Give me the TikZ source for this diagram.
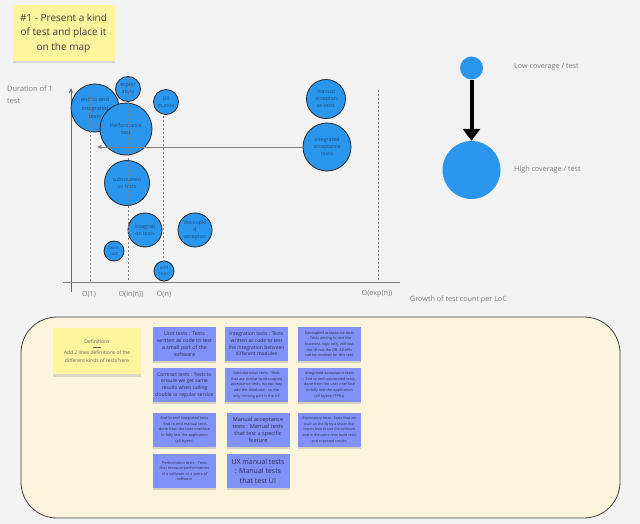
\documentclass[tikz,border=0pt]{standalone}
\usepackage{fontspec}
\setmainfont{Open Sans}
\usetikzlibrary{arrows.meta,shadows}
\definecolor{bgc}{HTML}{F2F2F2}
\definecolor{yel}{HTML}{FDF49E}
\definecolor{panelc}{HTML}{FAF4DC}
\definecolor{stk}{HTML}{8092F7}
\definecolor{stktext}{HTML}{2C2C55}
\definecolor{bub}{HTML}{2A96EE}
\definecolor{bubtext}{HTML}{1E4E7E}
\definecolor{graytext}{HTML}{7A7A7A}
\definecolor{axisc}{HTML}{808080}
\begin{document}
\begin{tikzpicture}[x=1pt,y=-1pt,
  bubble/.style={circle, draw=black!85, line width=0.8pt, fill=bub, text=bubtext, align=center, inner sep=0pt, font=\fontsize{5.2}{7}\selectfont},
  legbub/.style={circle, fill=bub, inner sep=0pt},
  yelsticky/.style={rectangle, fill=yel, align=center, inner sep=0pt, drop shadow={shadow xshift=0pt, shadow yshift=-2.5pt, opacity=0.25}},
  bluesticky/.style={rectangle, fill=stk, text=stktext, align=center, inner sep=0pt, minimum width=63, minimum height=34, drop shadow={shadow xshift=0pt, shadow yshift=-2pt, opacity=0.3}},
  big/.style={font=\fontsize{5.3}{7}\selectfont},
  small/.style={font=\fontsize{3.8}{5.6}\selectfont},
  axisline/.style={draw=axisc, line width=0.9pt},
  tick/.style={draw=axisc, line width=0.7pt, dash pattern=on 2pt off 2pt},
  glabel/.style={text=graytext, font=\fontsize{7.2}{8.5}\selectfont, inner sep=0pt},
  panelbox/.style={rectangle, draw=black!75, line width=0.8pt, fill=panelc, rounded corners=36pt}
]
\fill[bgc] (0,0) rectangle (640,524);
\useasboundingbox (0,0) rectangle (640,524);

% title sticky
\node[yelsticky, minimum width=102, minimum height=56, font=\fontsize{10}{14.5}\selectfont, text=black!75] (title) at (63.5,33) {\#1 - Present a kind\\of test and place it\\on the map};

% axis labels
\node[glabel, anchor=west, align=left, font=\fontsize{7.4}{12}\selectfont] (ylab) at (7,95) {Duration of 1\\test};
\node[glabel, anchor=west] (xlab) at (410,300) {Growth of test count per LoC};

% axes
\coordinate (ybot) at (71,292);
\coordinate (ytop) at (71,88);
\coordinate (xleft) at (63,282);
\coordinate (xright) at (400,282);
\draw[axisline, -{Stealth[length=5pt,width=4pt]}, draw=black!60] (ybot) -- (ytop);
\draw[axisline] (xleft) -- (xright);

% tick labels
\node[glabel] (o1) at (89,294) {O(1)};
\node[glabel] (oln) at (131,294) {O(ln(n))};
\node[glabel] (on) at (164,294) {O(n)};
\node[glabel] (oexp) at (377,294) {O(exp(n))};

% bubbles
\node[bubble, minimum size=48, font=\fontsize{5.5}{8.3}\selectfont] (e2e) at (95,108) {end to end\\integrated\\tests};
\node[bubble, minimum size=52] (perf) at (126,129) {Performance\\test};
\node[bubble, minimum size=25] (explo) at (128,89) {explor\\atory};
\node[bubble, minimum size=25] (ux) at (166,102) {UX\\manua};
\node[bubble, minimum size=45] (subc) at (127,183) {subcutaneo\\us tests};
\node[bubble, minimum size=34] (integ) at (145,230) {integrati\\on tests};
\node[bubble, minimum size=34] (decoup) at (195,230) {decouple\\d\\acceptan};
\node[bubble, minimum size=20, font=\fontsize{4.6}{6}\selectfont] (contract) at (114,251) {cont\\ract};
\node[bubble, minimum size=20, font=\fontsize{4.6}{6}\selectfont] (unit) at (164,271) {unit\\tests};
\node[bubble, minimum size=39] (manacc) at (326,99) {manual\\acceptan\\ce tests};
\node[bubble, minimum size=48] (intacc) at (327,147) {integrated\\acceptance\\tests};

% dashed guide lines
\coordinate (d1t) at (90,95);   \coordinate (d1b) at (90,282);
\coordinate (d2t) at (128,78);  \coordinate (d2b) at (128,282);
\coordinate (d3t) at (163,100); \coordinate (d3b) at (163,282);
\coordinate (d4t) at (378,90);  \coordinate (d4b) at (378,282);
\draw[tick] (d1t) -- (d1b);
\draw[tick] (d2t) -- (d2b);
\draw[tick] (d3t) -- (d3b);
\draw[tick] (d4t) -- (d4b);

% horizontal arrow
\coordinate (tip) at (97,147);
\draw[axisline, -{Stealth[length=5pt,width=4pt]}] (intacc.west) -- (tip);

% legend
\node[legbub, minimum size=23] (low) at (471.5,68) {};
\node[legbub, minimum size=58] (high) at (471.5,170) {};
\draw[line width=4pt, -{Triangle[length=12pt,width=17pt]}] (low.south) -- (high.north);
\node[glabel, anchor=west] (lowlab) at (514,67) {Low coverage / test};
\node[glabel, anchor=west] (highlab) at (514,170) {High coverage / test};

% panel
\node[panelbox, minimum width=599, minimum height=201] (panel) at (320.5,417.5) {};

% definitions sticky
\node[yelsticky, minimum width=88, minimum height=46, text=black!60, font=\fontsize{5}{8.5}\selectfont] (defs) at (97,351) {Definitions\\[-3pt]\rule[1.5pt]{8pt}{0.3pt}\\[-3pt]Add 2 lines definitions of the\\different kinds of tests here};

% blue stickies
\node[bluesticky, big] (s11) at (184.5,344) {Unit tests : Tests\\written as code to test\\a small part of the\\software};
\node[bluesticky, font=\fontsize{5}{6.6}\selectfont] (s12) at (256.5,344) {Integration tests : Tests\\written as code to test\\the integration between\\different modules};
\node[bluesticky, small] (s13) at (329.5,344) {Decoupled acceptance tests\\: Tests aiming to test the\\business logic only, without\\the UI nor the DB. All APIs\\can be mocked for this test.};
\node[bluesticky, font=\fontsize{5}{6.6}\selectfont] (s21) at (184.5,385) {Contract tests : Tests to\\ensure we get same\\results when calling\\double or regular service};
\node[bluesticky, small] (s22) at (256.5,385) {Subcutaneous tests : Tests\\that are similar to decoupled\\acceptance tests, except they\\add the database - so the\\only missing part is the UX};
\node[bluesticky, small] (s23) at (329.5,385) {Integrated acceptance tests\\: End to end automated tests,\\done from the user interface\\to fully test the application\\(all layers) (TPKs)};
\node[bluesticky, small] (s31) at (184.5,430) {End to end integrated tests\\: End to end manual tests,\\done from the user interface\\to fully test the application\\(all layers)};
\node[bluesticky, font=\fontsize{5.6}{7}\selectfont] (s32) at (258,430) {Manual acceptance\\tests : Manual tests\\that test a specific\\feature};
\node[bluesticky, font=\fontsize{3.6}{5.6}\selectfont] (s33) at (329.5,430) {Exploratory tests : Tests that are\\built on the fly by a tester that\\learns how to use the software\\and in the same time build tests\\and expected results.};
\node[bluesticky, small] (s41) at (184.5,471) {Performance tests : Tests\\that measure performances\\of a software or a piece of\\software};
\node[bluesticky, font=\fontsize{7}{9.5}\selectfont] (s42) at (258,471) {UX manual tests\\: Manual tests\\that test UI};
\end{tikzpicture}
\end{document}
